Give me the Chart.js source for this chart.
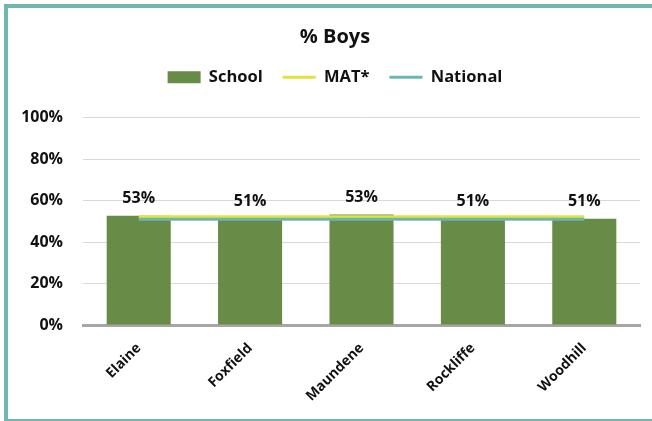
<!DOCTYPE html>
<html>
<head>
<meta charset="utf-8">
<script src="https://cdn.jsdelivr.net/npm/chart.js@4/dist/chart.umd.min.js"></script>
<style>
  html, body { margin: 0; padding: 0; background: #fff; overflow: hidden; }
  #frame {
    position: absolute; left: 4px; top: 4px; width: 700px; height: 411px;
    border: 4px solid #6db7ae; border-right: none;
  }
  #boysChart { position: absolute; left: 0; top: 0; }
</style>
</head>
<body>
<div id="frame"></div>
<canvas id="boysChart" width="652" height="421"></canvas>
<script>
// Data
const schools = ['Elaine', 'Foxfield', 'Maundene', 'Rockliffe', 'Woodhill'];
const schoolPct = [52.7, 51.2, 53.3, 51.2, 51.2];
const matPct = [52.2, 52.2, 52.2, 52.2, 52.2];
const nationalPct = [51, 51, 51, 51, 51];
const yTicks = [0, 20, 40, 60, 80, 100];

const FONT = "'Open Sans', 'Noto Sans', sans-serif";

// Value labels above the bars
const barLabels = {
    id: 'barLabels',
    afterDatasetsDraw(chart) {
        const ctx = chart.ctx;
        const meta = chart.getDatasetMeta(0);
        ctx.save();
        ctx.font = `bold 16px ${FONT}`;
        ctx.fillStyle = '#111';
        ctx.textAlign = 'center';
        ctx.textBaseline = 'middle';
        meta.data.forEach((bar, i) => {
            ctx.fillText(Math.round(schoolPct[i]) + '%', bar.x, bar.y - 17);
        });
        ctx.restore();
    }
};

// Extra room under the legend
const legendGap = {
    id: 'legendGap',
    beforeLayout(chart) {
        const lg = chart.legend;
        if (lg && !lg._gapPatched) {
            const fit = lg.fit.bind(lg);
            lg.fit = () => { fit(); lg.height += 22; };
            lg._gapPatched = true;
        }
    }
};

new Chart(document.getElementById('boysChart'), {
    type: 'bar',
    data: {
        labels: schools,
        datasets: [
            {
                label: 'School',
                data: schoolPct,
                backgroundColor: '#688b47',
                borderWidth: 0,
                barPercentage: 0.575,
                categoryPercentage: 1,
                pointStyle: 'rect',
                order: 3
            },
            {
                type: 'line',
                label: 'MAT*',
                data: matPct,
                borderColor: '#e3e33c',
                backgroundColor: '#e3e33c',
                borderWidth: 3,
                pointRadius: 0,
                pointStyle: 'line',
                order: 2
            },
            {
                type: 'line',
                label: 'National',
                data: nationalPct,
                borderColor: '#6bb7af',
                backgroundColor: '#6bb7af',
                borderWidth: 3,
                pointRadius: 0,
                pointStyle: 'line',
                order: 1
            }
        ]
    },
    options: {
        responsive: false,
        animation: false,
        layout: { padding: { top: 15, left: 30, right: 12, bottom: 0 } },
        plugins: {
            title: {
                display: true,
                text: '% Boys',
                color: '#111',
                font: { family: FONT, size: 20, weight: 'bold' },
                padding: { top: 10, bottom: 0 }
            },
            legend: {
                labels: {
                    usePointStyle: true,
                    pointStyleWidth: 33,
                    boxHeight: 12,
                    padding: 20,
                    color: '#111',
                    font: { family: FONT, size: 16.5, weight: 'bold' },
                    sort: (a, b) => a.datasetIndex - b.datasetIndex
                }
            },
            tooltip: { enabled: false }
        },
        scales: {
            x: {
                grid: { display: false },
                border: { color: '#a6a6a6', width: 3 },
                ticks: {
                    color: '#111',
                    maxRotation: 45,
                    minRotation: 45,
                    padding: 7,
                    font: { family: FONT, size: 14, weight: 'bold' }
                },
                afterFit(scale) { scale.height = 96; }
            },
            y: {
                min: 0,
                max: 100,
                border: { display: false },
                grid: { color: '#d9d9d9', lineWidth: 1, drawTicks: false },
                afterBuildTicks(scale) { scale.ticks = yTicks.map(v => ({ value: v })); },
                ticks: {
                    color: '#111',
                    padding: 20,
                    font: { family: FONT, size: 16, weight: 'bold' },
                    callback: v => v + '%'
                },
                afterFit(scale) {
                    scale.width = 53;
                    // let the tick labels spill left of the narrowed axis box
                    scale._computeLabelArea = () => undefined;
                }
            }
        }
    },
    plugins: [barLabels, legendGap]
});
</script>
</body>
</html>
